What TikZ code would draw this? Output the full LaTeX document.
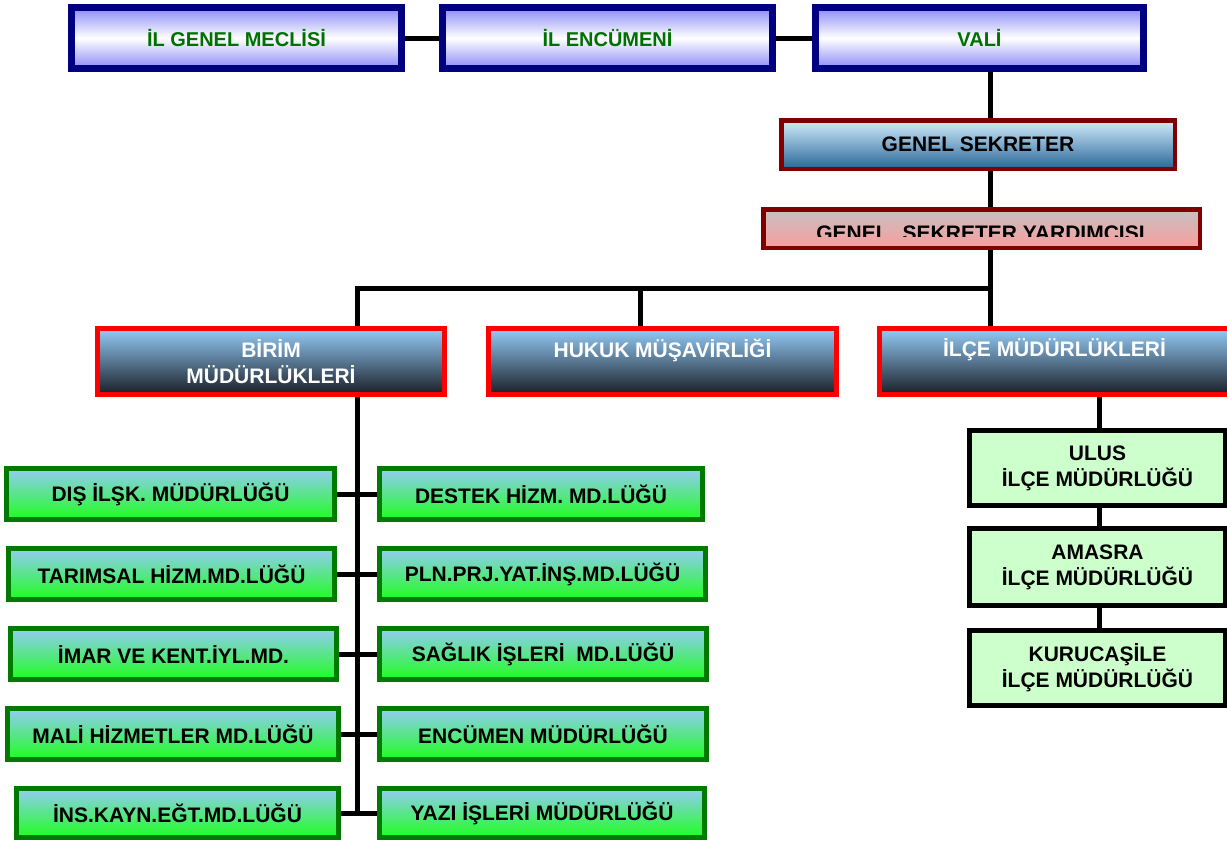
\documentclass[tikz,border=0pt]{standalone}
\usepackage{fontspec}
\setmainfont{Liberation Sans}
\definecolor{navyc}{HTML}{000080}
\definecolor{lav}{HTML}{8A8AF8}
\definecolor{dgreen}{HTML}{007000}
\definecolor{maroonc}{HTML}{800000}
\definecolor{gstop}{HTML}{D2EEFC}
\definecolor{gsbot}{HTML}{2A6698}
\definecolor{gsytop}{HTML}{C6C2C2}
\definecolor{gsybot}{HTML}{FA9C9C}
\definecolor{rtop}{HTML}{94CCF8}
\definecolor{rbot}{HTML}{1A1E26}
\definecolor{gtop}{HTML}{94CCF6}
\definecolor{gbot}{HTML}{1EFF1E}
\definecolor{gborder}{HTML}{007A00}
\definecolor{ilcefill}{HTML}{CCFFCC}
\begin{document}
\begin{tikzpicture}[x=0.5pt,y=-0.5pt,
  base/.style={rectangle, inner sep=0pt, align=center, font=\fontsize{10.5}{13}\selectfont\bfseries},
  wh/.style 2 args={minimum width=#1*0.5pt, minimum height=#2*0.5pt},
  topbox/.style={base, draw=navyc, line width=3.5pt, top color=lav, bottom color=lav, middle color=white, text=dgreen, font=\fontsize{10}{12}\selectfont\bfseries},
  gsbox/.style={base, draw=maroonc, line width=2.25pt, top color=gstop, bottom color=gsbot, text=black},
  gsybox/.style={base, draw=maroonc, line width=2.25pt, top color=gsytop, bottom color=gsybot},
  redbox/.style={base, draw=red, line width=2.5pt, top color=rtop, bottom color=rbot, text=white},
  grbox/.style={base, draw=gborder, line width=2.5pt, top color=gtop, bottom color=gbot, text=black},
  ilbox/.style={base, draw=black, line width=2.5pt, fill=ilcefill, text=black},
  conn/.style={line width=2.5pt, line join=miter}
]
\useasboundingbox (0,0) rectangle (1227,841);
\clip (0,0) rectangle (1227,841);

% spine coordinates
\coordinate (hub) at (990,288);
\coordinate (bsp) at (357,0);
\coordinate (hsp) at (640,0);
\coordinate (isp) at (1099,0);

% top row
\node[topbox, wh={330}{61}] (igm) at (236.5,38) {İL GENEL MECLİSİ};
\node[topbox, wh={330}{61}] (ienc) at (607.5,38) {İL ENCÜMENİ};
\node[topbox, wh={328}{61}] (vali) at (979.5,38) {VALİ};

% secretaries
\node[gsbox, wh={393.5}{48.5}] (gs) at (978,144.5) {GENEL SEKRETER};
\node[gsybox, wh={436.5}{38.5}] (gsy) at (981.5,228.5) {};
\begin{scope}
  \clip (763,209) rectangle (1200,236.5);
  \node[base, text=black] (gsyt) at (980.5,233) {GENEL\hspace{7pt}SEKRETER YARDIMCISI};
\end{scope}

% red boxes
\node[redbox, wh={347}{66}] (birim) at (271,361.5) {BİRİM\\MÜDÜRLÜKLERİ};
\node[redbox, wh={348}{66}] (hukuk) at (662.5,361.5) {\raisebox{5.75pt}[\height][\depth]{HUKUK MÜŞAVİRLİĞİ}};
\node[redbox, wh={350}{66}] (ilce) at (1054.5,361.5) {\raisebox{5.75pt}[\height][\depth]{İLÇE MÜDÜRLÜKLERİ}};

% green boxes left
\node[grbox, wh={328}{51}] (l1) at (170.5,494) {DIŞ İLŞK. MÜDÜRLÜĞÜ};
\node[grbox, wh={326}{51}] (l2) at (171.5,574) {TARIMSAL HİZM.MD.LÜĞÜ};
\node[grbox, wh={326}{51}] (l3) at (173.5,654) {İMAR VE KENT.İYL.MD.};
\node[grbox, wh={331}{51}] (l4) at (173,734) {MALİ HİZMETLER MD.LÜĞÜ};
\node[grbox, wh={322}{49}] (l5) at (177.5,813) {İNS.KAYN.EĞT.MD.LÜĞÜ};
% green boxes right
\node[grbox, wh={323}{51}] (r1) at (541,494) {DESTEK HİZM. MD.LÜĞÜ};
\node[grbox, wh={326}{51}] (r2) at (542.5,574) {PLN.PRJ.YAT.İNŞ.MD.LÜĞÜ};
\node[grbox, wh={327}{51}] (r3) at (543,654) {SAĞLIK İŞLERİ\ \ MD.LÜĞÜ};
\node[grbox, wh={327}{51}] (r4) at (543,734) {ENCÜMEN MÜDÜRLÜĞÜ};
\node[grbox, wh={325}{49}] (r5) at (542,813) {YAZI İŞLERİ MÜDÜRLÜĞÜ};

% ilce boxes
\node[ilbox, wh={256}{75}] (ulus) at (1097.5,468) {ULUS\\İLÇE MÜDÜRLÜĞÜ};
\node[ilbox, wh={256}{77}] (amasra) at (1097.5,567) {AMASRA\\İLÇE MÜDÜRLÜĞÜ};
\node[ilbox, wh={256}{75}] (kuruca) at (1097.5,668) {KURUCAŞİLE\\İLÇE MÜDÜRLÜĞÜ};

% connectors
\draw[conn] (igm.east) -- (ienc.west);
\draw[conn] (ienc.east) -- (vali.west);
\draw[conn] (vali.south -| hub) -- (gs.north -| hub);
\draw[conn] (gs.south -| hub) -- (gsy.north -| hub);
\draw[conn] (gsy.south -| hub) -- (ilce.north -| hub);
\draw[conn] (birim.north -| bsp) |- (hub);
\draw[conn] (hukuk.north -| hsp) -- (hsp |- hub);
\draw[conn] (birim.south -| bsp) -- (bsp |- l5.east);
\draw[conn] (l1.east) -- (r1.west);
\draw[conn] (l2.east) -- (r2.west);
\draw[conn] (l3.east) -- (r3.west);
\draw[conn] (l4.east) -- (r4.west);
\draw[conn] (l5.east) -- (r5.west);
\draw[conn] (ilce.south -| isp) -- (ulus.north -| isp);
\draw[conn] (ulus.south -| isp) -- (amasra.north -| isp);
\draw[conn] (amasra.south -| isp) -- (kuruca.north -| isp);
\end{tikzpicture}
\end{document}
